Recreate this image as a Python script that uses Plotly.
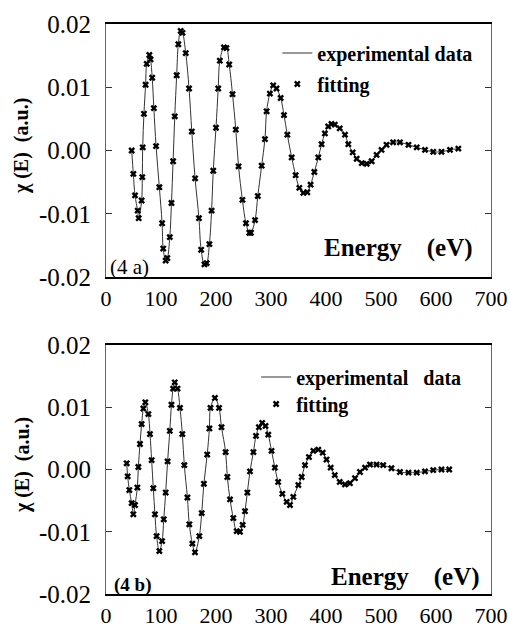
import plotly.graph_objects as go

# ---- data ----
E_a = [46.7, 49.7, 52.7, 57.6, 59.4, 64.8, 66.0, 66.7, 69.0, 72.0, 74.0, 78.8, 81.0, 84.0, 87.0,
       91.0, 97.0, 102.0, 104.0, 108.5, 111.5, 116.0, 119.0, 122.0, 125.0, 128.5, 131.5, 135.8,
       139.0, 145.0, 151.0, 156.0, 162.0, 169.0, 173.0, 179.0, 183.0, 188.0, 192.0, 195.0, 200.0,
       204.0, 207.0, 214.5, 219.0, 224.0, 230.0, 236.0, 241.0, 248.0, 254.5, 260.6, 263.6, 271.0,
       276.0, 283.0, 289.0, 292.0, 298.0, 304.0, 310.0, 317.6, 323.6, 329.7, 337.6, 344.8, 351.5,
       358.8, 366.0, 372.0, 378.8, 386.0, 392.0, 398.0, 404.0, 410.0, 416.0, 425.0, 434.5, 440.6,
       448.5, 455.8, 465.0, 474.0, 483.0, 492.0, 501.0, 510.0, 522.0, 534.5, 550.0, 565.0, 580.0,
       595.0, 610.0, 625.5, 640.6]
chi_a = [0.0, -0.0037, -0.0071, -0.0095, -0.0107, -0.0079, -0.0042, 0.0005, 0.0058, 0.0104, 0.0137,
         0.0151, 0.0144, 0.0115, 0.0067, 0.0007, -0.0058, -0.0115, -0.0155, -0.0174, -0.0170,
         -0.0137, -0.0083, -0.0017, 0.0054, 0.0119, 0.0168, 0.0189, 0.0186, 0.0154, 0.0098, 0.0030,
         -0.0044, -0.0107, -0.0157, -0.0180, -0.0178, -0.0148, -0.0095, -0.0032, 0.0036, 0.0098,
         0.0142, 0.0163, 0.0162, 0.0136, 0.0089, 0.0033, -0.0025, -0.0078, -0.0115, -0.0130,
         -0.0130, -0.0110, -0.0072, -0.0024, 0.0018, 0.0062, 0.0090, 0.0103, 0.0098, 0.0083,
         0.0056, 0.0025, -0.0011, -0.0039, -0.0059, -0.0067, -0.0066, -0.0054, -0.0034, -0.0011,
         0.0010, 0.0027, 0.0038, 0.0042, 0.0041, 0.0035, 0.0025, 0.0010, -0.0003, -0.0013, -0.0020,
         -0.0021, -0.0017, -0.0007, 0.0001, 0.0009, 0.0013, 0.0013, 0.0009, 0.0005, 0.0001,
         -0.0002, -0.0002, 0.0001, 0.0003]

E_b = [37.6, 39.4, 42.4, 46.7, 49.7, 52.7, 57.0, 58.8, 61.8, 64.8, 67.9, 71.5, 77.0, 80.0, 83.0,
       86.0, 89.0, 92.0, 97.0, 102.0, 105.0, 108.5, 112.0, 116.0, 119.0, 122.0, 125.0, 130.0,
       134.5, 138.8, 142.4, 148.0, 151.5, 157.0, 161.8, 169.7, 174.0, 178.0, 184.0, 188.0, 190.0,
       198.0, 205.5, 210.0, 217.5, 220.6, 225.5, 231.5, 237.6, 243.6, 248.5, 252.7, 257.0, 261.8,
       268.0, 272.7, 278.0, 284.0, 290.0, 295.0, 301.0, 307.0, 313.0, 320.6, 328.5, 334.5, 340.6,
       349.7, 355.8, 361.8, 369.0, 377.0, 386.0, 394.0, 401.0, 408.5, 416.0, 425.0, 434.5, 443.6,
       452.7, 461.8, 471.0, 480.0, 492.0, 504.0, 519.0, 534.5, 550.0, 565.0, 580.0, 595.0, 610.0,
       624.0]
chi_b = [0.0010, -0.0011, -0.0033, -0.0054, -0.0072, -0.0057, -0.0029, 0.0004, 0.0041, 0.0073,
         0.0098, 0.0108, 0.0089, 0.0057, 0.0015, -0.0030, -0.0072, -0.0107, -0.0131, -0.0115,
         -0.0080, -0.0037, 0.0013, 0.0062, 0.0104, 0.0130, 0.0140, 0.0130, 0.0099, 0.0057, 0.0007,
         -0.0045, -0.0088, -0.0119, -0.0133, -0.0107, -0.0070, -0.0023, 0.0024, 0.0066, 0.0099,
         0.0115, 0.0099, 0.0068, 0.0028, -0.0012, -0.0048, -0.0078, -0.0099, -0.0100, -0.0089,
         -0.0067, -0.0037, -0.0003, 0.0028, 0.0054, 0.0068, 0.0075, 0.0070, 0.0056, 0.0030, 0.0003,
         -0.0020, -0.0039, -0.0052, -0.0057, -0.0044, -0.0025, -0.0012, 0.0007, 0.0020, 0.0030,
         0.0032, 0.0027, 0.0016, 0.0003, -0.0009, -0.0020, -0.0024, -0.0022, -0.0014, -0.0004,
         0.0003, 0.0008, 0.0008, 0.0007, 0.0002, -0.0004, -0.0005, -0.0005, -0.0003, -0.0001,
         0.0, 0.0]

x_ticks = [0, 100, 200, 300, 400, 500, 600, 700]
y_ticks = [-0.02, -0.01, 0.0, 0.01, 0.02]
y_labels = ["-0.02", "-0.01", "0.00", "0.01", "0.02"]

SERIF = "Liberation Serif"
line_style = dict(color="#333333", width=1, shape="spline")
mark_style = dict(symbol="x", size=6, color="black")

fig = go.Figure()
fig.add_trace(go.Scatter(x=E_a, y=chi_a, mode="lines", line=line_style,
                         name="experimental data", showlegend=True,
                         xaxis="x", yaxis="y", legend="legend"))
fig.add_trace(go.Scatter(x=E_a, y=chi_a, mode="markers", marker=mark_style, name="fitting",
                         showlegend=True, xaxis="x", yaxis="y", legend="legend2"))
fig.add_trace(go.Scatter(x=E_b, y=chi_b, mode="lines", line=line_style,
                         name="experimental&nbsp;&nbsp;&nbsp;data", showlegend=True,
                         xaxis="x2", yaxis="y2", legend="legend3"))
fig.add_trace(go.Scatter(x=E_b, y=chi_b, mode="markers", marker=mark_style, name="fitting",
                         showlegend=True, xaxis="x2", yaxis="y2", legend="legend4"))

xax = dict(range=[0, 700], tickvals=x_ticks, showline=True, linewidth=2, linecolor="black",
           mirror=True, ticks="", showgrid=False, zeroline=False, automargin=False,
           tickfont=dict(family=SERIF, size=22, color="black"), ticklabelstandoff=1)
yax = dict(range=[-0.02, 0.02], tickvals=y_ticks, ticktext=y_labels, showline=True, linewidth=1,
           linecolor="#666666", mirror="ticks", ticks="inside", ticklen=6, tickcolor="#333333",
           showgrid=False, zeroline=False, ticklabelstandoff=9, automargin=False,
           tickfont=dict(family=SERIF, size=25, color="black"))

legfont = dict(family=SERIF, size=20, color="black", weight="bold")
def leg(x, y):
    return dict(x=x, y=y, xanchor="left", yanchor="middle", bgcolor="rgba(0,0,0,0)",
                font=legfont, itemwidth=30, borderwidth=0, visible=True)

fig.update_layout(
    width=510, height=629,
    margin=dict(l=106, r=19, t=24, b=35, autoexpand=False),
    paper_bgcolor="white", plot_bgcolor="white",
    showlegend=True,
    xaxis=dict(xax, domain=[0, 1], anchor="y"),
    yaxis=dict(yax, domain=[0.5561, 1], anchor="x"),
    xaxis2=dict(xax, domain=[0, 1], anchor="y2"),
    yaxis2=dict(yax, domain=[0, 0.4368], anchor="x2"),
    legend=leg(0.445, 0.9491),
    legend2=leg(0.445, 0.8947),
    legend3=leg(0.39, 0.3807),
    legend4=leg(0.39, 0.3333),
)

annots = [
    dict(text="<b>Energy&nbsp;&nbsp;&nbsp;&nbsp;(eV)</b>", x=0.561, y=0.607, size=25),
    dict(text="<b>Energy&nbsp;&nbsp;&nbsp;&nbsp;(eV)</b>", x=0.578, y=0.0298, size=25),
    dict(text="(4&nbsp;a)", x=0.004, y=0.5737, size=21),
    dict(text="<b>(4&nbsp;b)</b>", x=0.016, y=0.0158, size=19),
]
for a in annots:
    fig.add_annotation(text=a["text"], x=a["x"], y=a["y"], xref="paper", yref="paper",
                       xanchor="left", yanchor="middle", showarrow=False,
                       font=dict(family=SERIF, size=a["size"], color="black"))
for yc in (0.786, 0.2263):
    fig.add_annotation(text="<b>\u03c7 (E)&nbsp;&nbsp;(a.u.)</b>", x=-0.218, y=yc,
                       xref="paper", yref="paper", xanchor="center", yanchor="middle",
                       textangle=-90, showarrow=False,
                       font=dict(family=SERIF, size=20, color="black"))

fig.write_html("out.html", config={"displayModeBar": False},
               post_script="document.body.style.margin='0';")
